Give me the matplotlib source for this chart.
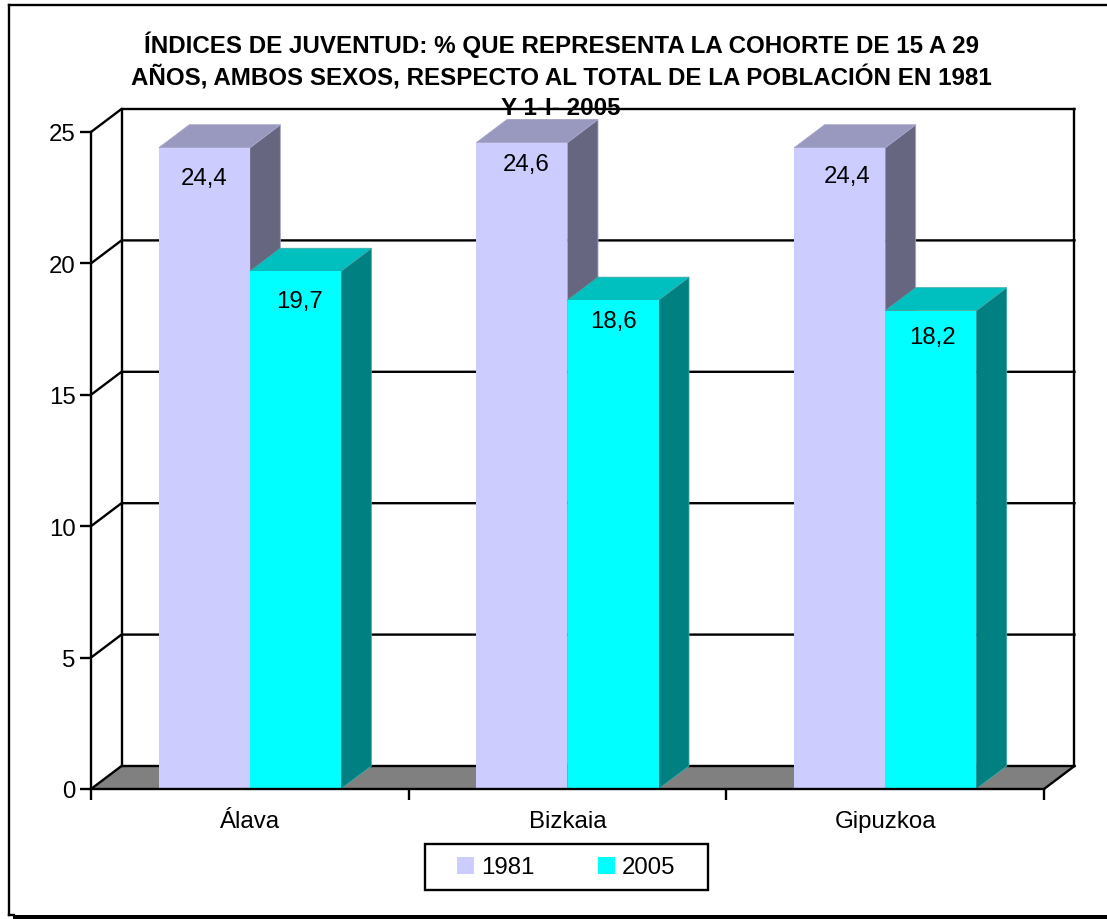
import matplotlib
matplotlib.use("Agg")
import matplotlib.pyplot as plt
from matplotlib.patches import Polygon, Rectangle
from matplotlib.lines import Line2D

# ---- data ----
categories = ["Álava", "Bizkaia", "Gipuzkoa"]
series_names = ["1981", "2005"]
values_1981 = [24.4, 24.6, 24.4]
values_2005 = [19.7, 18.6, 18.2]
value_labels_1981 = ["24,4", "24,6", "24,4"]
value_labels_2005 = ["19,7", "18,6", "18,2"]
y_ticks = [0, 5, 10, 15, 20, 25]
title_text = ("ÍNDICES DE JUVENTUD: % QUE REPRESENTA LA COHORTE DE 15 A 29\n"
              "AÑOS, AMBOS SEXOS, RESPECTO AL TOTAL DE LA POBLACIÓN EN 1981\n"
              "Y 1-I- 2005")

# ---- style ----
W, H = 1107, 920
plt.rcParams["font.family"] = ["Liberation Sans", "DejaVu Sans"]
FS = 17.3
LW = 1.7
front = {"1981": "#CCCCFF", "2005": "#00FFFF"}
top = {"1981": "#9999BF", "2005": "#00BFBF"}
side = {"1981": "#666680", "2005": "#008080"}
edge = {"1981": "#A4A4C8", "2005": "#40A8A8"}
# label nudges in pixels (dx, dy below the bar top)
nudge_1981 = [(0, 30), (4, 21), (7, 28)]
nudge_2005 = [(4.5, 29.5), (0.5, 21), (2, 26)]

fig = plt.figure(figsize=(W / 100, H / 100), dpi=100, facecolor="white")
L, R, T, B = 91, 1044, 133, 790
ax = fig.add_axes([L / W, 1 - B / H, (R - L) / W, (B - T) / H])
ax.set_xlim(0, len(categories))
ax.set_ylim(0, 25)
ax.patch.set_visible(False)
for s in ("top", "right"):
    ax.spines[s].set_visible(False)
for s in ("left", "bottom"):
    ax.spines[s].set_linewidth(LW)
    ax.spines[s].set_zorder(20)

px_x = len(categories) / (R - L)
px_y = 25 / (B - T)
DX, DY = 30.5 * px_x, 23 * px_y
nc = len(categories)

# walls, floor and gridlines
ax.add_patch(Polygon([(0, 0), (nc, 0), (nc + DX, DY), (DX, DY)], closed=True,
                     fc="#808080", ec="none", zorder=1, clip_on=False))
for t in y_ticks:
    ax.add_line(Line2D([0, DX, nc + DX], [t, t + DY, t + DY], color="black", lw=LW,
                       zorder=2, clip_on=False, solid_joinstyle="miter"))
ax.add_line(Line2D([DX, DX], [DY, 25 + DY], color="black", lw=LW, zorder=2, clip_on=False))
ax.add_line(Line2D([nc + DX, nc + DX], [DY, 25 + DY], color="black", lw=LW, zorder=2, clip_on=False))
ax.add_line(Line2D([nc, nc + DX], [0, DY], color="black", lw=LW, zorder=2, clip_on=False))

# bars
bw = 91 * px_x
def bar3d(x0, v, name, z):
    x1 = x0 + bw
    ax.bar(x0, v, width=bw, align="edge", color=front[name], edgecolor="none", zorder=z + 0.3, clip_on=False)
    ax.add_patch(Polygon([(x1, 0), (x1 + DX, DY), (x1 + DX, v + DY), (x1, v)], closed=True,
                         fc=side[name], ec=edge[name], lw=0.6, zorder=z, clip_on=False))
    ax.add_patch(Polygon([(x0, v), (x1, v), (x1 + DX, v + DY), (x0 + DX, v + DY)], closed=True,
                         fc=top[name], ec=edge[name], lw=0.6, zorder=z + 0.1, clip_on=False))

for i in range(nc):
    c = i + 0.5
    bar3d(c - bw, values_1981[i], "1981", 5 + i)
    bar3d(c, values_2005[i], "2005", 5.5 + i)
    ax.annotate(value_labels_1981[i], (c - bw / 2, values_1981[i]),
                xytext=(nudge_1981[i][0] * 0.72, -nudge_1981[i][1] * 0.72), textcoords="offset points",
                ha="center", va="center", fontsize=FS, color="black", zorder=30)
    ax.annotate(value_labels_2005[i], (c + bw / 2, values_2005[i]),
                xytext=(nudge_2005[i][0] * 0.72, -nudge_2005[i][1] * 0.72), textcoords="offset points",
                ha="center", va="center", fontsize=FS, color="black", zorder=30)

# axes ticks
ax.set_yticks(y_ticks)
ax.set_xticks(range(nc + 1))
ax.set_xticklabels([])
ax.set_xticks([i + 0.5 for i in range(nc)], minor=True)
ax.set_xticklabels(categories, minor=True, fontsize=FS)
ax.tick_params(axis="y", length=8, width=LW, labelsize=FS, pad=3)
ax.tick_params(axis="x", which="major", length=8, width=LW)
ax.tick_params(axis="x", which="minor", length=0, pad=15)

# title
fig.text(561 / W, 1 - 32 / H, title_text, ha="center", va="top", fontsize=17.4,
         fontweight="bold", linespacing=1.35, color="black", zorder=1)

# legend
handles = [Rectangle((0, 0), 1, 1, fc=front[n], ec="none") for n in series_names]
fig.legend(handles, series_names, ncol=2, loc="center", bbox_to_anchor=(566 / W, 1 - 868.5 / H),
           frameon=False, fontsize=FS, handlelength=0.7, handleheight=0.7, handletextpad=0.3,
           columnspacing=2.65, borderpad=0, borderaxespad=0)
fig.add_artist(Rectangle((424.5 / W, 1 - 891 / H), 283 / W, 46.5 / H, transform=fig.transFigure,
                         fc="none", ec="black", lw=LW))

# outer frame with shadow
fig.add_artist(Line2D([8.5 / W, 8.5 / W], [1 - 5.5 / H, 1 - 916 / H], color="black", lw=LW))
fig.add_artist(Line2D([8.5 / W, 1], [1 - 5.5 / H, 1 - 5.5 / H], color="black", lw=LW))
fig.add_artist(Rectangle((13 / W, 0), 1, 4.5 / H, transform=fig.transFigure, fc="black", ec="none"))
fig.add_artist(Line2D([8.5 / W, 14 / W], [1 - 916 / H, 1 - 916 / H], color="black", lw=LW))

fig.savefig("out.png", dpi=100, facecolor="white")
